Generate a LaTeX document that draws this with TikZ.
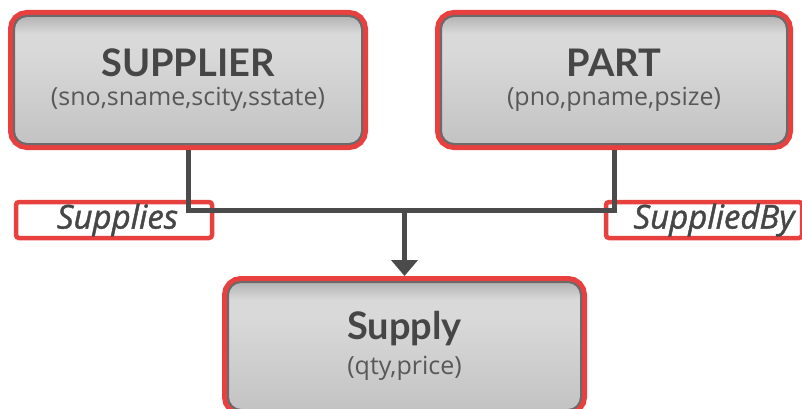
\documentclass[tikz,border=0pt]{standalone}
\usepackage{fontspec}
\setmainfont{Lato}
\newfontfamily\attrfont{Open Sans}
\newfontfamily\rolefont{Open Sans}[ItalicFeatures={FakeBold=1.3}]
\usetikzlibrary{arrows.meta}

\definecolor{boxred}{HTML}{E8403F}
\definecolor{boxedge}{HTML}{6A6A6A}
\definecolor{boxtop}{HTML}{B3B3B3}
\definecolor{boxmid}{HTML}{D9D9D9}
\definecolor{boxbot}{HTML}{C3C3C3}
\definecolor{ink}{HTML}{464646}
\definecolor{wire}{HTML}{4B4B4B}

\pgfdeclareverticalshading{boxshade}{100bp}{color(0bp)=(boxbot);
    color(25bp)=(boxbot); color(61bp)=(boxmid); color(68bp)=(boxmid);
    color(75bp)=(boxtop); color(100bp)=(boxtop)}

\newcommand{\entname}[1]{{\fontsize{38}{40}\selectfont\bfseries #1}}
\newcommand{\entattr}[1]{{\attrfont\fontsize{25}{28}\selectfont\color{ink!90} #1}}

\begin{document}
\begin{tikzpicture}[x=1pt,y=-1pt]

    \tikzstyle{entity} = [draw=boxedge, line width=2pt, rounded corners=13pt,
        shading=boxshade, preaction={draw=boxred, line width=12pt},
        minimum height=128pt, inner sep=0pt, outer sep=6pt,
        align=center, text=ink]
    \tikzstyle{role} = [draw=boxred, line width=4.5pt, rounded corners=3pt,
        minimum width=196pt, minimum height=36pt, inner sep=0pt, text=ink,
        font=\rolefont\fontsize{33}{36}\selectfont\itshape]
    \tikzstyle{link} = [draw=wire, line width=5pt]

    \useasboundingbox (0,0) rectangle (802,409);

    % Entities
    \node[entity, minimum width=348pt] (supplier) at (188,80)
        {\entname{SUPPLIER}\\[10pt]\entattr{(sno,sname,scity,sstate)}};
    \node[entity, minimum width=346pt] (part) at (614,80)
        {\entname{PART}\\[10pt]\entattr{(pno,pname,psize)}};
    \node[entity, minimum width=353pt] (supply) at (404.5,346)
        {\entname{Supply}\\[10pt]\entattr{(qty,price)}};

    % Role names
    \node[role] (supplies) at (114,220) {\hspace*{7pt}Supplies};
    \node[role] (suppliedby) at (704,220) {\hspace*{20pt}SuppliedBy};

    % Links
    \coordinate (junction) at (supply.north |- 0,210);
    \draw[link] (supplier.south) |- (junction) -| (part.south);
    \draw[link, -{Triangle[width=26pt,length=16pt]}] (junction) -- (supply.north);

\end{tikzpicture}
\end{document}
